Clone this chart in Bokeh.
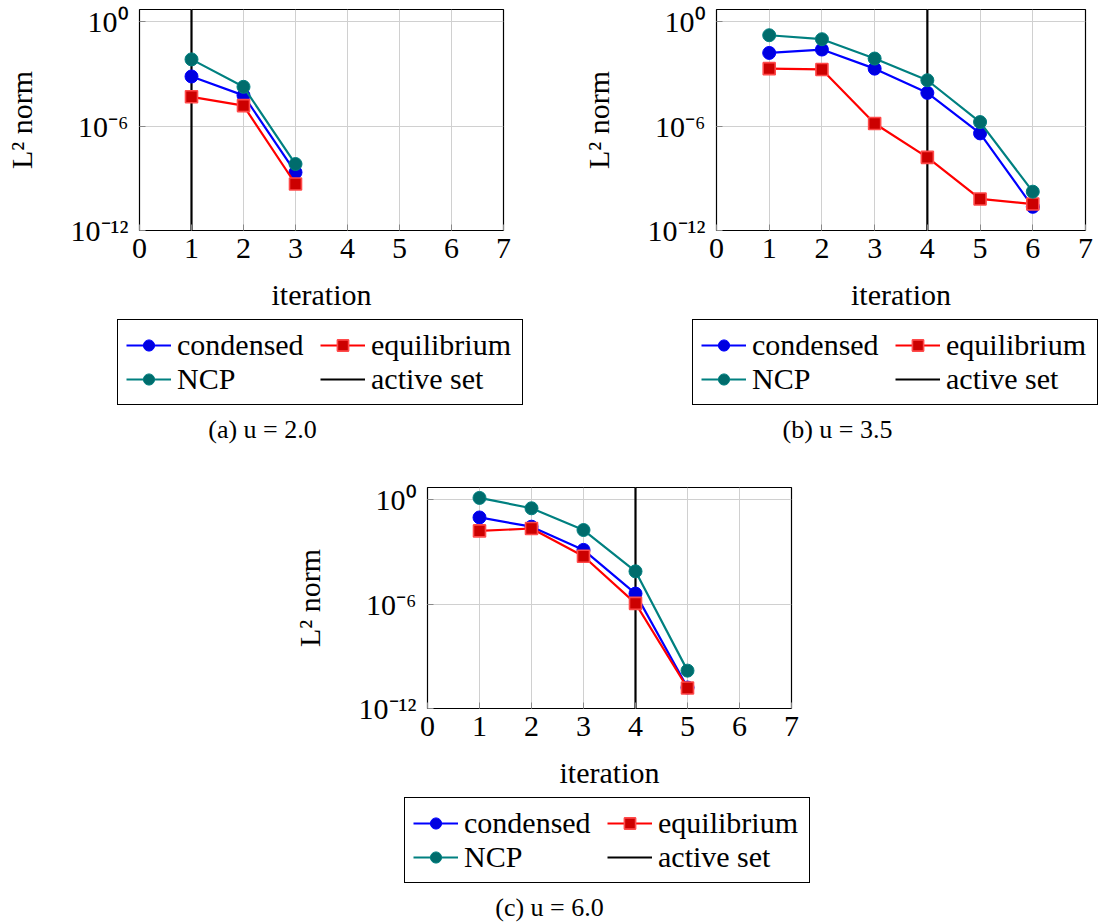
from bokeh.plotting import figure
from bokeh.models import (FixedTicker, CustomJSTickFormatter, Legend, LegendItem,
                          Label, Range1d, Spacer)
from bokeh.layouts import row, column
from bokeh.embed import file_html
from bokeh.resources import INLINE

# ---------------- data ----------------
x_ticks = [0, 1, 2, 3, 4, 5, 6, 7]
y_ticks = [1e-12, 1e-6, 1e0]
y_limits = [1e-12, 5.0]

iter_a = [1, 2, 3]
condensed_a = [7.1e-4, 5.8e-5, 2.2e-9]
equilibrium_a = [4.8e-5, 1.5e-5, 4.7e-10]
ncp_a = [6.8e-3, 1.8e-4, 6.6e-9]
active_a = 1

iter_b = [1, 2, 3, 4, 5, 6]
condensed_b = [0.016, 0.025, 2.0e-3, 8.1e-5, 3.8e-7, 2.3e-11]
equilibrium_b = [2.0e-3, 1.8e-3, 1.4e-6, 1.6e-8, 6.5e-11, 3.3e-11]
ncp_b = [0.166, 0.098, 7.6e-3, 4.3e-4, 1.7e-6, 1.7e-10]
active_b = 4

iter_c = [1, 2, 3, 4, 5]
condensed_c = [0.095, 0.028, 1.3e-3, 4.0e-6, 1.6e-11]
equilibrium_c = [0.016, 0.022, 5.6e-4, 1.1e-6, 1.5e-11]
ncp_c = [1.26, 0.32, 0.018, 7.6e-5, 1.5e-10]
active_c = 4

captions = ["(a) u = 2.0", "(b) u = 3.5", "(c) u = 6.0"]
series_names = ["condensed", "equilibrium", "NCP", "active set"]

FONT = "Liberation Serif"
BLUE, RED, TEAL = "#0000ff", "#ff0000", "#008080"
STYLE = {
    "cond_line": dict(line_color=BLUE, line_width=2.2),
    "cond_mark": dict(marker="circle", size=13, fill_color="#0000e0", line_color=BLUE),
    "eq_line": dict(line_color=RED, line_width=2.2),
    "eq_mark": dict(marker="square", size=12, fill_color="#cc0000", line_color="#ff4a4a",
                    line_width=1.6),
    "ncp_line": dict(line_color=TEAL, line_width=2.2),
    "ncp_mark": dict(marker="circle", size=13, fill_color="#006c6c", line_color=TEAL),
    "act_line": dict(line_color="black", line_width=2.2),
}


def draw_series(fig, it, cond, eq, ncp, active):
    ra = fig.line([active, active], y_limits, **STYLE["act_line"])
    r1 = fig.line(it, cond, **STYLE["cond_line"])
    r1m = fig.scatter(it, cond, **STYLE["cond_mark"])
    r2 = fig.line(it, eq, **STYLE["eq_line"])
    r2m = fig.scatter(it, eq, **STYLE["eq_mark"])
    r3 = fig.line(it, ncp, **STYLE["ncp_line"])
    r3m = fig.scatter(it, ncp, **STYLE["ncp_mark"])
    return [[r1, r1m], [r2, r2m], [r3, r3m], [ra]]


def make_plot(it, cond, eq, ncp, active, width, height, bl, br, bt, bb):
    p = figure(width=width, height=height, y_axis_type="log",
               x_range=Range1d(x_ticks[0], x_ticks[-1]),
               y_range=Range1d(y_limits[0], y_limits[1]),
               output_backend="svg", toolbar_location=None,
               min_border_left=bl, min_border_right=br,
               min_border_top=bt, min_border_bottom=bb,
               background_fill_color="white", border_fill_color="white")
    p.outline_line_color = "black"
    p.outline_line_width = 1.2
    p.outline_line_alpha = 1.0

    p.xaxis.ticker = FixedTicker(ticks=x_ticks)
    p.yaxis.ticker = FixedTicker(ticks=y_ticks)
    p.yaxis.formatter = CustomJSTickFormatter(code="""
        const e = Math.round(Math.log10(tick));
        const sup = {'-': '\u207b', '0': '\u2070', '1': '\u00b9', '2': '\u00b2', '3': '\u00b3',
                     '4': '\u2074', '5': '\u2075', '6': '\u2076', '7': '\u2077', '8': '\u2078', '9': '\u2079'};
        return '10' + String(e).split('').map(c => sup[c]).join('');
    """)
    for ax in (p.xaxis[0], p.yaxis[0]):
        ax.axis_line_color = None
        ax.major_tick_in = 6
        ax.major_tick_out = 0
        ax.major_tick_line_color = "#888888"
        ax.minor_tick_line_color = None
        ax.major_label_text_font = FONT
        ax.major_label_text_font_size = "30px"
        ax.major_label_text_color = "black"
        ax.axis_label_text_font = FONT
        ax.axis_label_text_font_size = "30px"
        ax.axis_label_text_font_style = "normal"
        ax.axis_label_text_color = "black"
    p.xaxis.axis_label = "iteration"
    p.yaxis.axis_label = "L\u00b2 norm"
    p.xaxis.major_label_standoff = 8
    p.xaxis.axis_label_standoff = 17
    p.yaxis.major_label_standoff = 11
    p.yaxis.axis_label_standoff = 30

    p.grid.grid_line_color = "#d0d0d0"
    p.grid.grid_line_width = 1
    p.grid.minor_grid_line_color = None

    draw_series(p, it, cond, eq, ncp, active)
    return p


def make_legend(it, cond, eq, ncp, active, caption, width, height, bt):
    # the series are drawn again here, off-view, only to give the legend its glyphs
    q = figure(width=width, height=height, x_range=Range1d(-20, -19), y_range=Range1d(0, 1),
               output_backend="svg", toolbar_location=None,
               min_border_left=0, min_border_right=0, min_border_top=bt, min_border_bottom=0,
               background_fill_color="white", border_fill_color="white")
    q.axis.visible = False
    q.grid.visible = False
    q.outline_line_color = None
    rs = draw_series(q, it, cond, eq, ncp, active)
    legend = Legend(items=[LegendItem(label=n, renderers=r) for n, r in zip(series_names, rs)],
                    orientation="horizontal", ncols=2, location="top_left",
                    label_text_font=FONT, label_text_font_size="30px", label_text_color="black",
                    border_line_color="black", border_line_width=1.2, border_line_alpha=1.0,
                    padding=8, spacing=0, glyph_width=45, glyph_height=28, label_standoff=6,
                    label_height=28, label_width=143, margin=0, background_fill_alpha=1.0)
    q.add_layout(legend, "center")
    frame_h = height - bt
    q.add_layout(Label(x=145, y=frame_h - 110, x_units="screen", y_units="screen",
                       text=caption, text_align="center", text_baseline="middle",
                       text_font=FONT, text_font_size="26px", text_color="black"))
    return q


pa = make_plot(iter_a, condensed_a, equilibrium_a, ncp_a, active_a, 551, 315, 139, 48, 9, 85)
pb = make_plot(iter_b, condensed_b, equilibrium_b, ncp_b, active_b, 551, 315, 165, 17, 9, 85)
pc = make_plot(iter_c, condensed_c, equilibrium_c, ncp_c, active_c, 551, 323, 139, 48, 17, 85)

la = make_legend(iter_a, condensed_a, equilibrium_a, ncp_a, active_a, captions[0], 434, 155, 4)
lb = make_legend(iter_b, condensed_b, equilibrium_b, ncp_b, active_b, captions[1], 410, 155, 4)
lc = make_legend(iter_c, condensed_c, equilibrium_c, ncp_c, active_c, captions[2], 435, 131, 4)

col_a = column(pa, row(Spacer(width=117, height=155), la))
col_b = column(pb, row(Spacer(width=141, height=155), lb))
col_c = column(pc, row(Spacer(width=116, height=131), lc))

layout = column(row(col_a, col_b), row(Spacer(width=288, height=454), col_c))

with open("out.html", "w") as f:
    f.write(file_html(layout, INLINE))
